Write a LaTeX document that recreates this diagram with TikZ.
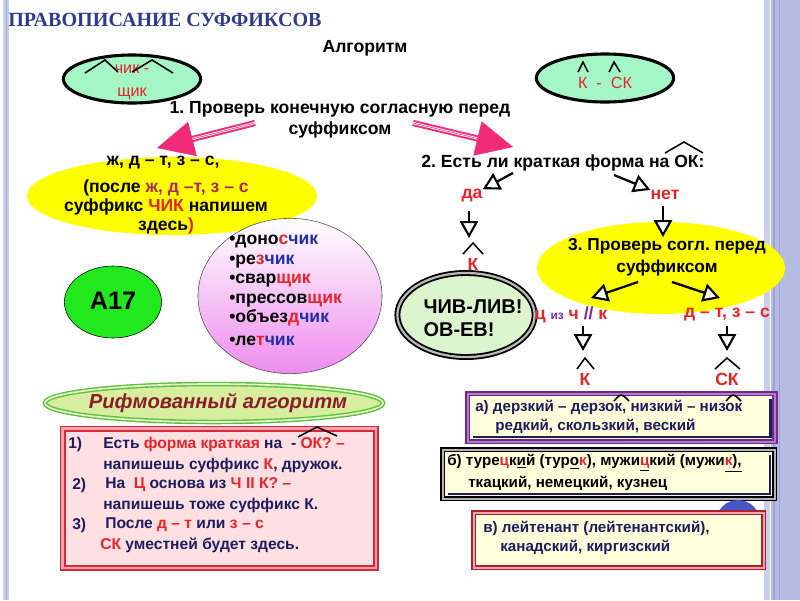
\documentclass[tikz,border=0pt]{standalone}
\usepackage{fontspec}
\setmainfont{Liberation Sans}
\newfontfamily\titlefont{Liberation Serif}
\usetikzlibrary{shapes.geometric, arrows.meta, positioning, calc}

\definecolor{redtxt}{HTML}{E8232A}
\definecolor{maroonr}{HTML}{B3285A}
\definecolor{bluet}{HTML}{1E2FA8}
\definecolor{titleblue}{HTML}{2E3B8F}
\definecolor{mint}{HTML}{A4F6C6}
\definecolor{yel}{HTML}{FFFF00}
\definecolor{limeg}{HTML}{22E81E}
\definecolor{pinkarr}{HTML}{F02C78}
\definecolor{lavlight}{HTML}{CBCEEC}
\definecolor{lavmid}{HTML}{B7BBE2}
\definecolor{lavdark}{HTML}{9CA3D8}
\definecolor{boxfill}{HTML}{FFFFDC}
\definecolor{pinkfill}{HTML}{FFE0E2}
\definecolor{rhymered}{HTML}{8C1C2C}
\definecolor{navyt}{HTML}{1C1C5E}
\definecolor{purpb}{HTML}{6E2A88}
\definecolor{purpl}{HTML}{B57BC8}
\definecolor{redb}{HTML}{D8283A}
\definecolor{pinkb}{HTML}{F4A6AE}
\definecolor{bluec}{HTML}{4656C4}
\definecolor{palegreen}{HTML}{DDF5CF}
\definecolor{rhymefill}{HTML}{D6EE9E}
\definecolor{rhymeb}{HTML}{5CC040}
\definecolor{purptxt}{HTML}{7A2A9A}
\definecolor{magpink}{HTML}{EE8CEE}

\begin{document}
\frenchspacing
\begin{tikzpicture}[x=0.025cm, y=-0.025cm,
    every node/.style={font=\bfseries\fontsize{12.5}{15}\selectfont, inner sep=0pt},
    mintoval/.style={ellipse, draw, line width=2.2pt, fill=mint, minimum width=3.43cm, minimum height=1.2cm},
    yoval/.style={ellipse, fill=yel},
    caret/.style={draw=black, line width=1.1pt},
    blkarr/.style={line width=1.6pt, -{Triangle[width=13pt,length=12pt,fill=white,line width=1.5pt]}},
    pinkshaft/.style={draw=pinkarr, line width=1.4pt, double=white, double distance=1.6pt},
    pinkhead/.style={draw=pinkarr, line width=0.4pt, -{Triangle[width=25pt,length=26pt]}},
    redw/.style={text=redtxt},
    boxtxt/.style={anchor=west, font=\bfseries\fontsize{10.8}{12}\selectfont},
    ruletxt/.style={anchor=west, text=navyt, font=\bfseries\fontsize{11.1}{12}\selectfont}]

    % background and side stripes
    \fill[white] (0,0) rectangle (800,600);
    \useasboundingbox (0,0) rectangle (800,600);
    \fill[lavlight] (3,0) rectangle (9,600);
    \draw[lavdark, line width=0.6pt] (6,0) -- (6,600);
    \fill[lavlight] (764,0) rectangle (770,600);
    \fill[lavmid] (771,0) rectangle (800,600);
    \draw[lavdark, line width=0.8pt] (774,0) -- (774,600);
    \draw[lavdark, line width=0.5pt] (779,0) -- (779,600);

    \node[anchor=west, text=titleblue, font=\titlefont\bfseries\fontsize{14.3}{16}\selectfont] (title) at (8,20) {ПРАВОПИСАНИЕ СУФФИКСОВ};
    \node (alg) at (365,48) {Алгоритм};

    % suffix ovals
    \node[mintoval] (chik) at (132,79) {};
    \node[align=center, redw, font=\fontsize{11.5}{16.5}\selectfont] (chikt) at (132,82) {чик -\\щик};
    \draw[caret] (85,73) -- (105,60) -- (118,72);
    \draw[caret] (132,72) -- (152,60) -- (173,73);

    \node[mintoval] (sk) at (605,78) {};
    \node[redw, font=\fontsize{11.5}{13}\selectfont] (skt) at (605,83) {К\ \ -\ \ СК};
    \draw[caret] (578,72) -- (583,62) -- (588,72);
    \draw[caret] (609,72) -- (614,62) -- (620,72);

    % step 1
    \node[align=center] (step1) at (340,120) {1. Проверь конечную согласную перед\\суффиксом};
    \coordinate (p1s) at (255,123);
    \coordinate (p1e) at (157,148);
    \coordinate (p2s) at (413,123);
    \coordinate (p2e) at (513,147);
    \draw[pinkshaft, shorten >=22pt] (p1s) -- (p1e);
    \draw[pinkhead] (p1s) -- (p1e);
    \draw[pinkshaft, shorten >=22pt] (p2s) -- (p2e);
    \draw[pinkhead] (p2s) -- (p2e);

    % left branch
    \node[yoval, minimum width=7.25cm, minimum height=1.95cm] (lefty) at (172,196) {};
    \node (rule1) at (163,163) {ж, д – т, з – с,};
    \node[align=center, font=\bfseries\fontsize{12.5}{13.6}\selectfont] (rule2) at (166,207)
        {(после \textcolor{maroonr}{ж, д –т, з – с}\\суффикс \textcolor{redtxt}{ЧИК} напишем\\здесь\textcolor{redtxt}{)}};

    \node[ellipse, draw, fill=limeg, minimum width=2.43cm, minimum height=1.8cm] (a17) at (113,302) {};
    \node[font=\bfseries\fontsize{18}{20}\selectfont] (a17t) at (113,301) {A17};

    \node[ellipse, draw=gray!60!black, top color=white, bottom color=magpink, minimum width=4.6cm, minimum height=3.88cm] (words) at (290,296) {};
    \node[align=left, anchor=north west, font=\bfseries\fontsize{12.5}{13.9}\selectfont] (wlist) at (229,235)
        {•доно\textcolor{redtxt}{с}\textcolor{bluet}{чик}\\
         •ре\textcolor{redtxt}{з}\textcolor{bluet}{чик}\\
         •свар\textcolor{redtxt}{щик}\\
         •прессов\textcolor{redtxt}{щик}\\
         •объез\textcolor{redtxt}{д}\textcolor{bluet}{чик}\\[2pt]
         •ле\textcolor{redtxt}{т}\textcolor{bluet}{чик}};

    \node[ellipse, draw=black, line width=1.3pt, double=gray!55, double distance=1.6pt, fill=palegreen, minimum width=3.43cm, minimum height=2.1cm] (chiv) at (466,315) {};
    \node[align=left, font=\bfseries\fontsize{14.2}{16.4}\selectfont] (chivt) at (473,318) {ЧИВ-ЛИВ!\\ОВ-ЕВ!};

    % right branch
    \node (q2) at (563,163) {2. Есть ли краткая форма на ОК:};
    \draw[caret] (665,153) -- (684,142) -- (703,153);
    \node[redw] (da) at (472,196) {да};
    \node[redw] (net) at (665,195) {нет};
    \coordinate (q2l) at (513,173);
    \coordinate (q2r) at (614,175);
    \draw[blkarr] (q2l) -- (da.north east);
    \draw[blkarr] (q2r) -- (net.north west);

    \coordinate (da1) at (469,211);
    \coordinate (da2) at (469,238);
    \draw[blkarr] (da1) -- (da2);
    \draw[caret] (463,254) -- (473,243) -- (483,254);
    \node[redw] (k1) at (473,264) {К};

    \node[yoval, minimum width=6.2cm, minimum height=2.3cm] (righty) at (661,268) {};
    \node[align=center, font=\bfseries\fontsize{12.3}{15.5}\selectfont] (step3) at (667,257) {3. Проверь согл. перед\\суффиксом};
    \coordinate (net1) at (663,206);
    \coordinate (net2) at (663,237);
    \draw[blkarr] (net1) -- (net2);

    \node[redw] (ciz) at (571,315) {ц {\color{purptxt}\fontsize{8.5}{10}\selectfont из} ч {\color{purptxt}//} к};
    \node[redw] (dt) at (727,315) {д – т, з – с};
    \coordinate (r3l) at (638,282);
    \coordinate (r3r) at (672,282);
    \coordinate (cizt) at (591,298);
    \coordinate (dtt) at (720,298);
    \draw[blkarr] (r3l) -- (cizt);
    \draw[blkarr] (r3r) -- (dtt);

    \coordinate (c1) at (583,326);
    \coordinate (c2) at (583,351);
    \coordinate (d1) at (727,326);
    \coordinate (d2) at (727,351);
    \draw[blkarr] (c1) -- (c2);
    \draw[blkarr] (d1) -- (d2);
    \draw[caret] (577,369) -- (585,358) -- (594,369);
    \draw[caret] (715,369) -- (727,358) -- (740,369);
    \node[redw] (k2) at (585,379) {К};
    \node[redw] (sk2) at (727,379) {СК};

    % rhymed algorithm
    \node[ellipse, draw=rhymeb, line width=1pt, double=rhymefill!60!white, double distance=1.2pt, fill=rhymefill, minimum width=8.45cm, minimum height=0.95cm] (rhyme) at (214,403) {};
    \node[text=rhymered, font=\bfseries\itshape\fontsize{14.4}{17}\selectfont] (rhymet) at (218,403) {Рифмованный алгоритм};

    \node[anchor=north west, draw=redb, line width=1pt, double=pinkb, double distance=2pt, fill=pinkfill, minimum width=7.83cm, minimum height=3.48cm] (rbox) at (62,428) {};
    \node[ruletxt] (n1) at (68,444) {1)};
    \node[ruletxt] (l1) at (103,444) {Есть \textcolor{redtxt}{форма краткая} на\ \ - \textcolor{redtxt}{ОК? –}};
    \node[ruletxt] (l2) at (103,465) {напишешь суффикс \textcolor{redtxt}{К}, дружок.};
    \node[ruletxt] (n2) at (72,485) {2)};
    \node[ruletxt] (l3) at (105,485) {На\ \ \textcolor{redtxt}{Ц} основа из \textcolor{redtxt}{Ч II К? –}};
    \node[ruletxt] (l4) at (103,505) {напишешь тоже суффикс К.};
    \node[ruletxt] (n3) at (72,525) {3)};
    \node[ruletxt] (l5) at (105,525) {После \textcolor{redtxt}{д – т} или \textcolor{redtxt}{з – с}};
    \node[ruletxt] (l6) at (100,545) {\textcolor{redtxt}{СК} уместней будет здесь.};
    \draw[caret] (298,437) -- (317,427) -- (337,436);

    % example boxes
    \node[anchor=north west, draw=purpb, line width=1.1pt, double=purpl, double distance=1.5pt, fill=boxfill, minimum width=7.68cm, minimum height=1.2cm] (boxa) at (467,393) {};
    \draw[navyt, line width=2pt] ([shift={(4pt,4pt)}]boxa.south west) -- ([shift={(-4pt,4pt)}]boxa.south east) -- ([shift={(-4pt,-4pt)}]boxa.north east);
    \node[boxtxt, text=navyt] (a1) at (475,407) {а) дерзкий – дерзок, низкий – низок};
    \node[boxtxt, text=navyt] (a2) at (495,426) {редкий, скользкий, веский};
    \draw[caret] (614,401) .. controls (621,393) .. (629,401);
    \draw[caret] (726,401) .. controls (733,393) .. (741,401);

    \node[anchor=north west, draw=black, line width=1.1pt, double=gray!60, double distance=1.5pt, fill=boxfill, minimum width=8.3cm, minimum height=1.225cm] (boxb) at (442,449) {};
    \draw[navyt, line width=2pt] ([shift={(4pt,4pt)}]boxb.south west) -- ([shift={(-4pt,4pt)}]boxb.south east) -- ([shift={(-4pt,-4pt)}]boxb.north east);
    \node[boxtxt] (b1) at (447,463) {б) туре\textcolor{redtxt}{ц}к\underline{и}й (тур\underline{о}\textcolor{redtxt}{к}), мужи\underline{\textcolor{redtxt}{ц}}кий (мужи\underline{\textcolor{redtxt}{к}),}};
    \node[boxtxt] (b2) at (468,483) {ткацкий, немецкий, кузнец};

    \node[circle, fill=bluec, minimum size=1.1cm] (dot) at (738,522) {};
    \node[anchor=north west, draw=redb!80!black, line width=1.1pt, double=pinkb, double distance=1.5pt, fill=boxfill, minimum width=7.25cm, minimum height=1.375cm] (boxc) at (473,512) {};
    \node[boxtxt, text=navyt] (c1t) at (483,528) {в) лейтенант (лейтенантский),};
    \node[boxtxt, text=navyt] (c2t) at (500,547) {канадский, киргизский};
\end{tikzpicture}
\end{document}
